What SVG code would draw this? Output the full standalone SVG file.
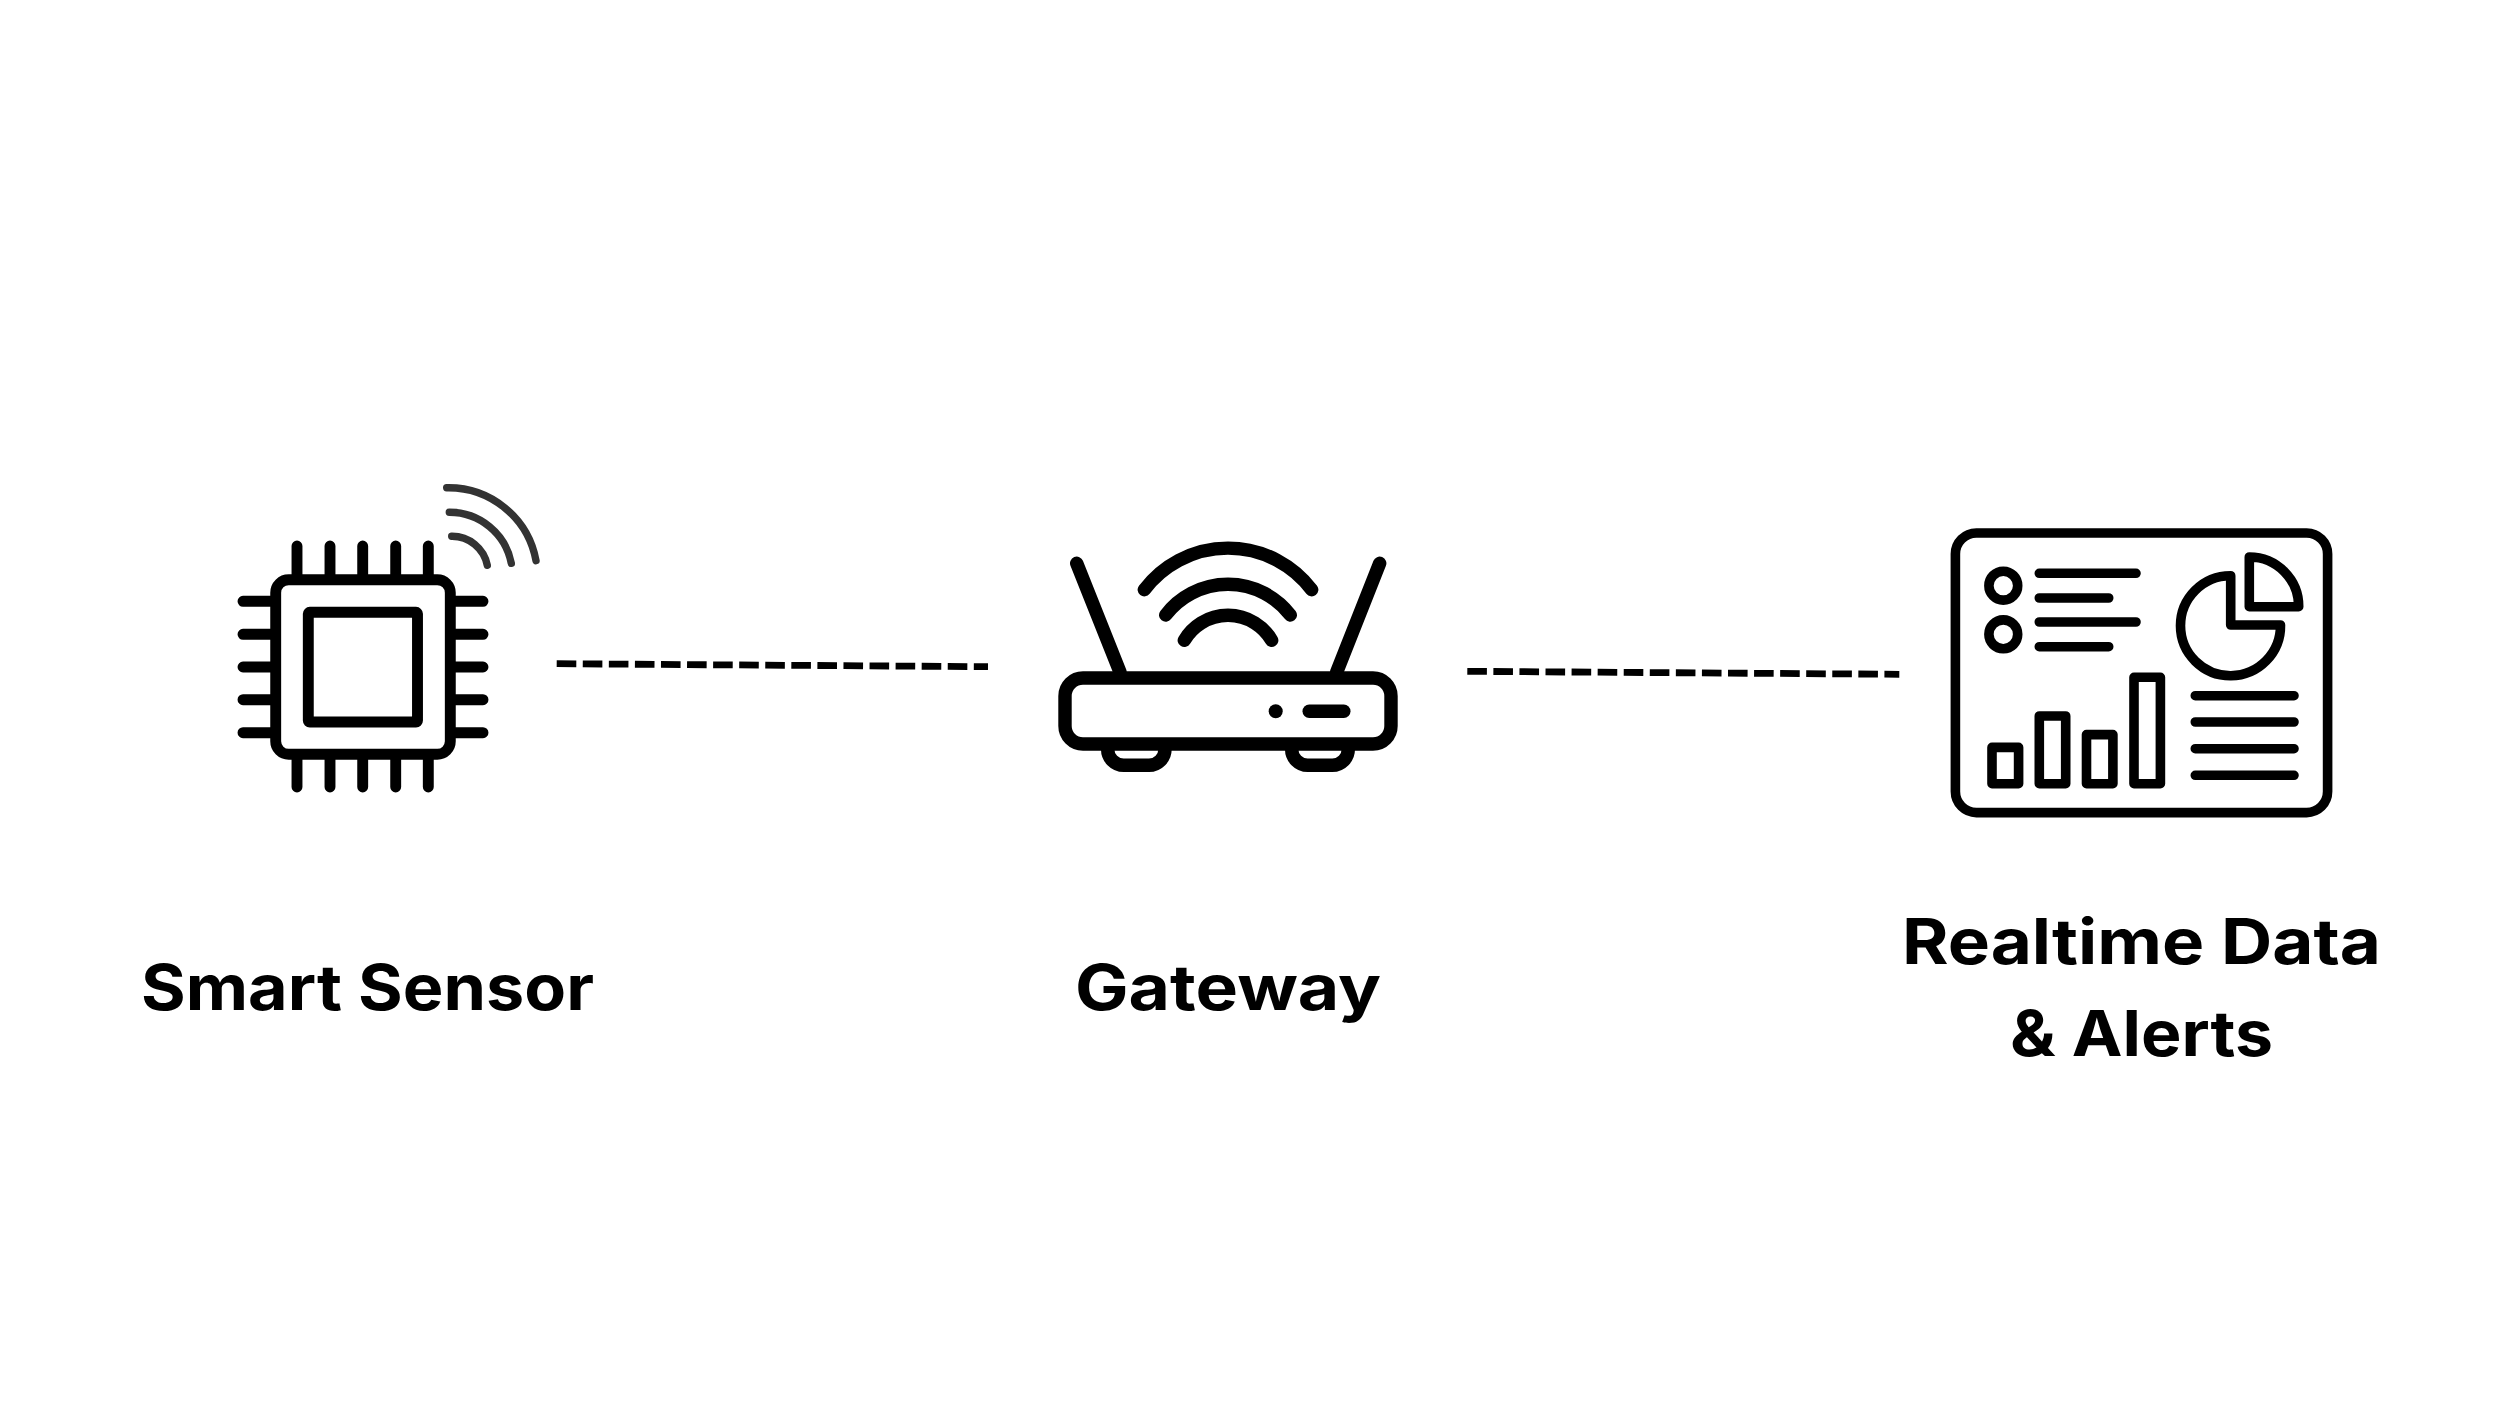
<svg xmlns="http://www.w3.org/2000/svg" width="2500" height="1406" viewBox="0 0 2500 1406">
<style>
.s{fill:none;stroke:#000;stroke-linecap:round;stroke-linejoin:round}
.c{stroke-width:10.9}
.w{stroke:#333;stroke-width:7.4}
.r{stroke-width:13.4}
.d{stroke-width:9.6}
.dash{fill:none;stroke:#000;stroke-width:6.8;stroke-dasharray:19.6 6.47}
.t{font-family:Inter,"Liberation Sans",sans-serif;font-weight:700;font-size:63px;fill:#000}
</style>
<rect width="2500" height="1406" fill="#fff"/>
<g id="connectors">
<path class="dash" d="M556.7 663.7L988 666.7"/>
<path class="dash" d="M1467.3 671.3L1899.3 674.3"/>
</g>
<g id="smart-sensor">
<rect class="s c" x="275.7" y="579.7" width="174.6" height="174.6" rx="13"/>
<rect class="s c" x="308.3" y="612.3" width="109.2" height="109.7" rx="1.5"/>
<path class="s c" d="M297 546V575M330 546V575M362.7 546V575M395.7 546V575M428.3 546V575M297 759V787M330 759V787M362.7 759V787M395.7 759V787M428.3 759V787M243 601.3H271M243 634.3H271M243 667H271M243 699.7H271M243 732.7H271M455 601.3H483M455 634.3H483M455 667H483M455 699.7H483M455 732.7H483"/>
<path class="s w" d="M446.7 487.7A89 89 0 0 1 536 560.7"/>
<path class="s w" d="M449.3 512.3A63 63 0 0 1 511.3 563.3"/>
<path class="s w" d="M451.7 536.3A36 36 0 0 1 487.3 565.3"/>
<text class="t" x="141" y="1010" textLength="453" lengthAdjust="spacingAndGlyphs">Smart Sensor</text>
</g>
<g id="gateway">
<path class="s r" d="M1076.7 563.3L1120 672M1379.7 563.3L1336.7 672"/>
<path class="s r" d="M1144.3 589.7A105 105 0 0 1 1311.7 589.7"/>
<path class="s r" d="M1165.7 615A78.5 78.5 0 0 1 1290.3 615"/>
<path class="s r" d="M1184.3 640.3A50.7 50.7 0 0 1 1271.7 640.3"/>
<rect class="s r" x="1065" y="678" width="326" height="66" rx="18"/>
<circle cx="1275.7" cy="711.3" r="7"/>
<path class="s r" d="M1309.2 711.3H1343.8"/>
<path class="s r" d="M1107.7 745V749A16 16 0 0 0 1123.7 765.3H1149A16 16 0 0 0 1165 749V745M1291.7 745V749A16 16 0 0 0 1307.7 765.3H1332.3A16 16 0 0 0 1348.3 749V745"/>
<text class="t" x="1075" y="1010" textLength="306" lengthAdjust="spacingAndGlyphs">Gateway</text>
</g>
<g id="realtime-data-alerts">
<rect class="s d" x="1955.4" y="533" width="372.2" height="279.6" rx="21"/>
<circle class="s d" cx="2003.3" cy="585.7" r="14.4"/>
<circle class="s d" cx="2003.3" cy="634.3" r="14.4"/>
<path class="s d" d="M2039.3 573.3H2136M2039.3 598H2108.7M2039.3 622H2136M2039.3 646.7H2108.7"/>
<path class="s d" d="M2230.7 575.7A50 50 0 1 0 2280.5 625H2230.7Z"/>
<path class="s d" d="M2249.3 557A49.5 49.5 0 0 1 2298.7 606.7H2249.3Z"/>
<rect class="s d" x="1992" y="747.4" width="26.6" height="36.3"/>
<rect class="s d" x="2039.3" y="716" width="26.4" height="67.7"/>
<rect class="s d" x="2086.5" y="734.6" width="26.4" height="49.1"/>
<rect class="s d" x="2134" y="677.3" width="26.4" height="106.4"/>
<path class="s d" d="M2195.3 695.7H2294M2195.3 722H2294M2195.3 748.7H2294M2195.3 775.3H2294"/>
<text class="t" x="1902" y="964" textLength="479" lengthAdjust="spacingAndGlyphs">Realtime Data</text>
<text class="t" x="2010" y="1056" textLength="263" lengthAdjust="spacingAndGlyphs">&amp; Alerts</text>
</g>
</svg>
